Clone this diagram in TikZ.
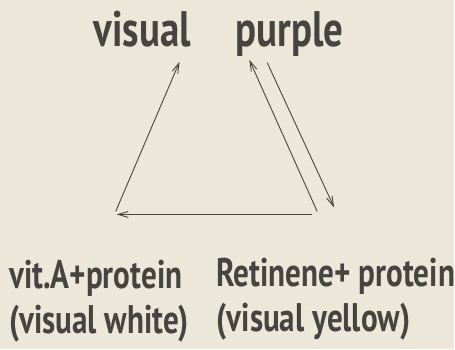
\documentclass[tikz,border=0pt]{standalone}
\usepackage{fontspec}
\newfontfamily\handfont[FakeStretch=0.78]{PT Sans Bold}
\usetikzlibrary{arrows.meta,positioning}
\definecolor{paper}{RGB}{236,231,216}
\definecolor{ink}{RGB}{70,68,64}

\begin{document}
\begin{tikzpicture}[
    x=1pt, y=-1pt,
    lbl/.style    = {inner sep=0pt, text=ink, align=left,
                     font=\handfont\fontsize{40}{45}\selectfont},
    toplbl/.style = {lbl, font=\handfont\fontsize{50}{56}\selectfont},
    arr/.style    = {-{Straight Barb[length=10pt,width=6pt]}, draw=ink,
                     line width=0.9pt},
]
\fill[paper] (0,0) rectangle (455,350);

% ============ top: visual purple ============
\node[toplbl, anchor=base west] (visual) at (94,47) {visual};
\node[toplbl, anchor=base west] (purple) at (236,47) {purple};

% ============ bottom: the two products ============
\node[lbl, anchor=north west] (white)  at (9,261)  {vit.A+protein\\(visual white)};
\node[lbl, anchor=north west] (yellow) at (217,259) {Retinene+ protein\\(visual yellow)};

% corners of the triangle
\coordinate (apexL)  at (180,62);
\coordinate (apexR1) at (250,60);
\coordinate (apexR2) at (268,63);
\coordinate (baseL)  at (116,212);
\coordinate (baseR1) at (318,212);
\coordinate (baseR2) at (335,208);
\coordinate (botR)   at (313,215);
\coordinate (botL)   at (117,215);

\draw[arr] (baseL)  -- (apexL);
\draw[arr] (baseR1) -- (apexR1);
\draw[arr] (apexR2) -- (baseR2);
\draw[arr] (botR)   -- (botL);

\end{tikzpicture}
\end{document}
